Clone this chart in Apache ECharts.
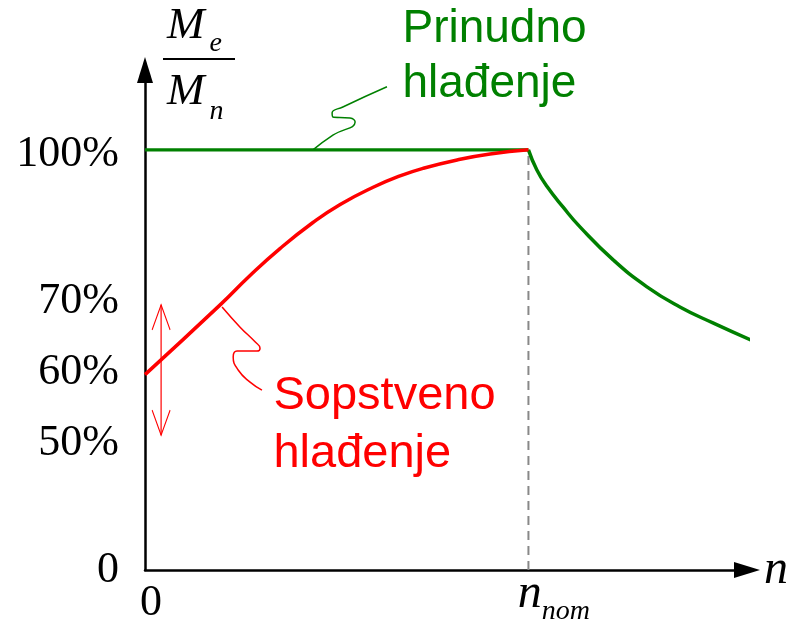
<!DOCTYPE html>
<html>
<head>
<meta charset="utf-8">
<script src="https://cdn.jsdelivr.net/npm/echarts@6/dist/echarts.min.js"></script>
<style>
  html, body { margin: 0; padding: 0; background: #fff; }
  #chart { width: 811px; height: 630px; }
</style>
</head>
<body>
<div id="chart"></div>
<script>
// n in % of n_nom, M_e/M_n on the drawing's own (schematic) vertical scale
const xTickPos = [0, 100]
const xTickText = ['0', 'nnom']
const yTickPos = [0, 30.2, 47, 64, 100]
const yTickText = ['0', '50%', '60%', '70%', '100%']

// Prinudno hlađenje (forced cooling)
const forcedFlatN = [0, 100]
const forcedFlatM = [100, 100]
const forcedDropN = [100, 102.2, 104.9, 109.0, 113.5, 122.1, 130.9, 139.5, 148.1, 158.6]
const forcedDropM = [100, 95.2, 91.2, 86.4, 81.6, 73.8, 67.4, 62.6, 58.8, 54.5]

// Sopstveno hlađenje (self cooling)
const selfN = [0, 19.6, 27.4, 35.2, 43.8, 50.9, 59.5, 66.5, 72.5, 81.4, 90.0, 100]
const selfM = [46.5, 63.1, 70.1, 76.5, 82.7, 87.0, 91.1, 93.8, 95.6, 97.6, 99.0, 100]

// dashed line at n_nom, 50..70% range arrow
const nomLineN = [100, 100]
const nomLineM = [0, 100]
const rangeArrowN = [4.2, 4.2]
const rangeArrowM = [63.1, 32.1]

// squiggly leader lines to the captions
const forcedLeaderN = [43.8, 49.0, 54.8, 53.5, 49.0, 48.8, 51.6, 63.1]
const forcedLeaderM = [100, 103.5, 106.6, 107.6, 107.8, 108.8, 110.2, 115.0]
const selfLeaderN = [20.1, 24.8, 28.7, 30.0, 29.2, 24.0, 23.0, 24.3, 27.4, 30.5]
const selfLeaderM = [62.6, 57.8, 54.3, 52.8, 52.1, 52.1, 50.7, 47.6, 44.7, 42.8]

const GREEN = '#008000'
const RED = '#ff0000'
const serif = "'Liberation Serif', 'Times New Roman', serif"
const sans = "'Liberation Sans', Arial, sans-serif"

const zip = (xs, ys) => xs.map((x, i) => [x, ys[i]])

// only the last point of a leader gets a (hidden) symbol carrying the caption
const withCaption = (pts, label) => pts.map((p, i) =>
  i === pts.length - 1
    ? { value: p, symbol: 'circle', symbolSize: 1, itemStyle: { color: 'rgba(0,0,0,0)' }, label: Object.assign({ show: true }, label) }
    : { value: p, symbol: 'none' })

const chart = echarts.init(document.getElementById('chart'))

chart.setOption({
  animation: false,
  backgroundColor: '#fff',
  grid: { left: 145, right: 64, top: 70, bottom: 60, outerBoundsMode: 'none' },
  xAxis: {
    type: 'value',
    min: 0,
    max: 157,
    name: 'n',
    nameLocation: 'end',
    nameGap: 17,
    nameMoveOverlap: false,
    nameTextStyle: { fontFamily: serif, fontStyle: 'italic', fontSize: 48, color: '#000', verticalAlign: 'middle', align: 'left' },
    axisLine: { show: true, symbol: ['none', 'triangle'], symbolSize: [16, 26], lineStyle: { color: '#000', width: 2.5 } },
    axisTick: { show: false },
    splitLine: { show: false },
    axisLabel: {
      customValues: xTickPos,
      margin: 0,
      formatter: (v) => {
        const i = xTickPos.indexOf(v)
        return i === 0 ? '{zero|' + xTickText[0] + '}' : '{n|n}{sub|nom}'
      },
      rich: {
        zero: { fontFamily: serif, fontSize: 44, color: '#000', lineHeight: 60, padding: [11, 0, 0, 12], verticalAlign: 'top' },
        n: { fontFamily: serif, fontStyle: 'italic', fontSize: 48, color: '#000', lineHeight: 48, padding: [0, 0, 0, 51], verticalAlign: 'top' },
        sub: { fontFamily: serif, fontStyle: 'italic', fontSize: 28, color: '#000', lineHeight: 28, padding: [28, 0, 0, 0], verticalAlign: 'top' }
      }
    }
  },
  yAxis: {
    type: 'value',
    min: 0,
    max: 119,
    name: '{M|M}{e|e}\n{bar| }\n{M2|M}{n|n}',
    nameLocation: 'end',
    nameGap: 66,
    nameMoveOverlap: false,
    nameTextStyle: {
      align: 'left',
      verticalAlign: 'top',
      padding: [0, 0, 0, 18],
      rich: {
        M: { fontFamily: serif, fontStyle: 'italic', fontSize: 45, color: '#000', lineHeight: 54, padding: [0, 0, 0, 4], verticalAlign: 'top' },
        e: { fontFamily: serif, fontStyle: 'italic', fontSize: 28, color: '#000', lineHeight: 28, padding: [26, 0, 0, 5], verticalAlign: 'top' },
        bar: { width: 72, height: 2, lineHeight: 2, fontSize: 2, backgroundColor: '#000' },
        M2: { fontFamily: serif, fontStyle: 'italic', fontSize: 45, color: '#000', lineHeight: 46, padding: [10, 0, 0, 4], verticalAlign: 'top' },
        n: { fontFamily: serif, fontStyle: 'italic', fontSize: 28, color: '#000', lineHeight: 28, padding: [38, 0, 0, 5], verticalAlign: 'top' }
      }
    },
    axisLine: { show: true, symbol: ['none', 'triangle'], symbolSize: [16, 26], lineStyle: { color: '#000', width: 2.5 } },
    axisTick: { show: false },
    splitLine: { show: false },
    axisLabel: {
      customValues: yTickPos,
      margin: 26,
      formatter: (v) => {
        const i = yTickPos.indexOf(v)
        return i === yTickPos.length - 1 ? '{top|' + yTickText[i] + '}' : yTickText[i]
      },
      fontFamily: serif,
      fontSize: 44,
      color: '#000',
      rich: {
        top: { fontFamily: serif, fontSize: 44, color: '#000', padding: [10, 0, 0, 0] }
      }
    }
  },
  series: [
    {
      name: 'n_nom',
      type: 'line',
      data: zip(nomLineN, nomLineM),
      showSymbol: false,
      lineStyle: { color: '#888888', width: 2, type: [9, 6] },
      z: 1
    },
    {
      name: 'Prinudno hlađenje',
      type: 'line',
      data: zip(forcedFlatN, forcedFlatM),
      showSymbol: false,
      lineStyle: { color: GREEN, width: 3.2 }
    },
    {
      name: 'Prinudno hlađenje pad',
      type: 'line',
      data: zip(forcedDropN, forcedDropM),
      smooth: 0.5,
      showSymbol: false,
      clip: false,
      lineStyle: { color: GREEN, width: 3.5 }
    },
    {
      name: 'Sopstveno hlađenje',
      type: 'line',
      data: zip(selfN, selfM),
      smooth: 0.5,
      showSymbol: false,
      lineStyle: { color: RED, width: 3.5 }
    },
    {
      name: 'forcedLeader',
      type: 'line',
      data: withCaption(zip(forcedLeaderN, forcedLeaderM), {
        formatter: 'Prinudno\nhlađenje',
        position: 'right',
        distance: 15,
        offset: [0, -30],
        align: 'left',
        fontFamily: sans,
        fontSize: 46,
        lineHeight: 55,
        color: GREEN
      }),
      smooth: 0.5,
      showSymbol: true,
      lineStyle: { color: GREEN, width: 1.5 },
      clip: false
    },
    {
      name: 'selfLeader',
      type: 'line',
      data: withCaption(zip(selfLeaderN, selfLeaderM), {
        formatter: 'Sopstveno\nhlađenje',
        position: 'right',
        distance: 11,
        offset: [0, 35],
        align: 'left',
        fontFamily: sans,
        fontSize: 47,
        lineHeight: 58,
        color: RED
      }),
      smooth: 0.5,
      showSymbol: true,
      lineStyle: { color: RED, width: 1.5 },
      clip: false
    },
    {
      name: 'range',
      type: 'line',
      data: [
        { value: [rangeArrowN[0], rangeArrowM[0]], symbolOffset: [0, 12.5] },
        { value: [rangeArrowN[1], rangeArrowM[1]], symbolRotate: 180, symbolOffset: [0, -12.5] }
      ],
      showSymbol: true,
      symbol: 'path://M0,25 L9,0 L18,25',
      symbolSize: [18, 25],
      itemStyle: { color: 'none', borderColor: RED, borderWidth: 1.2 },
      lineStyle: { color: RED, width: 1.2 }
    }
  ]
})
</script>
</body>
</html>
